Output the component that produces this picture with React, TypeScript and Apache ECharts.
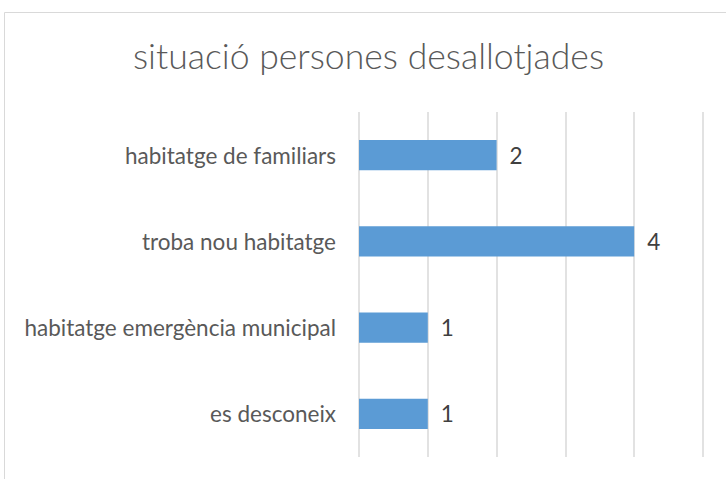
import React, { useEffect, useRef } from "react";
import * as echarts from "echarts";

const categories = [
  "habitatge de familiars",
  "troba nou habitatge",
  "habitatge emergència municipal",
  "es desconeix",
];
const values = [2, 4, 1, 1];
const titleText = "situació persones desallotjades";

export default function App() {
  const ref = useRef<HTMLDivElement>(null);
  useEffect(() => {
    if (!ref.current) return;
    const chart = echarts.init(ref.current, null, { renderer: "svg" });
    chart.setOption({
      animation: false,
      backgroundColor: "#ffffff",
      title: {
        text: titleText,
        left: 128,
        top: 32,
        textStyle: {
          fontFamily: "Lato",
          fontWeight: 300,
          fontSize: 35.6,
          color: "#595959",
        },
      },
      graphic: [
        {
          type: "rect",
          shape: { x: 4.5, y: 12.5, width: 800, height: 600 },
          style: { fill: "none", stroke: "#d9d9d9", lineWidth: 1 },
          silent: true,
        },
      ],
      grid: { left: 359, right: 23, top: 112, bottom: 22, containLabel: false },
      xAxis: {
        type: "value",
        min: 0,
        max: 5,
        interval: 1,
        axisLabel: { show: false },
        axisLine: { show: false },
        axisTick: { show: false },
        splitLine: { show: true, lineStyle: { color: "#d9d9d9", width: 1.5 } },
      },
      yAxis: {
        type: "category",
        data: categories,
        inverse: true,
        axisLine: { show: false },
        axisTick: { show: false },
        axisLabel: {
          margin: 23,
          fontFamily: "Lato",
          fontSize: 22.5,
          color: "#595959",
        },
      },
      series: [
        {
          type: "bar",
          data: values,
          barWidth: "35%",
          itemStyle: { color: "#5b9bd5" },
          label: {
            show: true,
            position: "right",
            distance: 13,
            fontFamily: "Lato",
            fontSize: 22.5,
            color: "#404040",
          },
        },
      ],
    });
    return () => chart.dispose();
  }, []);
  return (
    <div
      ref={ref}
      style={{ position: "fixed", left: 0, top: 0, width: 726, height: 479 }}
    />
  );
}
